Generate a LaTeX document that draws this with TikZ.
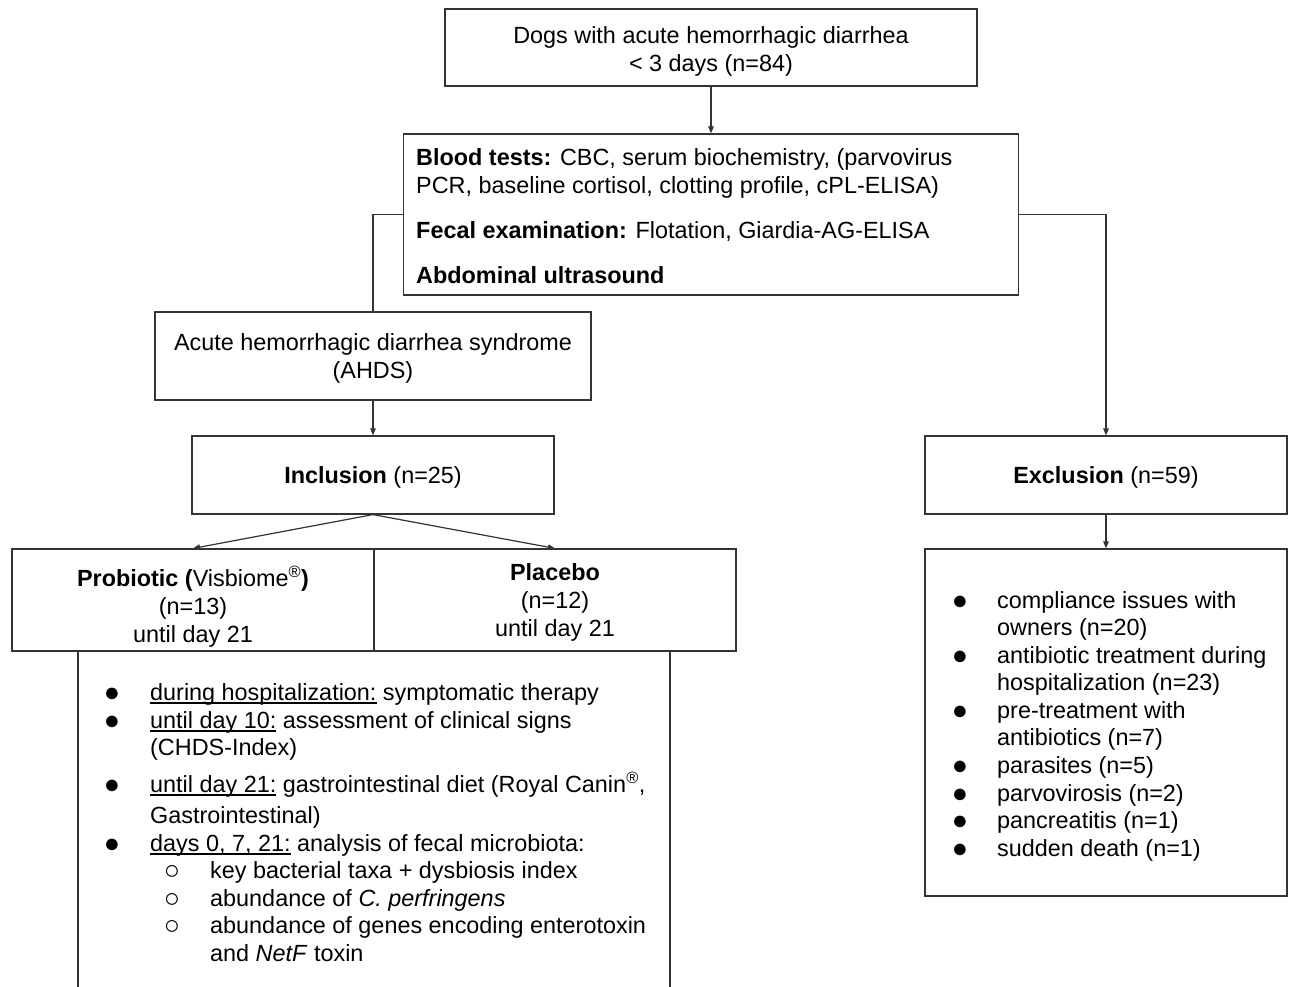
\documentclass[tikz,border=0pt]{standalone}
\usepackage{fontspec}
\setmainfont{Liberation Sans}
\usetikzlibrary{arrows.meta}

% underline that sits just under the baseline
\newcommand{\undl}[1]{\setbox0\hbox{#1}\rlap{\rule[-3pt]{\wd0}{1.1pt}}\box0{}}

\tikzset{
  box/.style={draw=black!80, line width=1.2pt, inner sep=0pt, align=center, text depth=0pt},
  link/.style={draw=black!80, line width=1.2pt, -{Triangle[length=7pt,width=5.5pt]}},
  item/.style={anchor=west, inner sep=0pt, text height=17.5pt, text depth=5.5pt, yshift=-2.5pt},
  dot/.style={anchor=center, inner sep=0pt, yshift=-2.5pt, scale=1.15},
}

\begin{document}
\begin{tikzpicture}[x=1pt, y=-1pt, font=\fontsize{23.4}{28}\selectfont]
      \useasboundingbox (0,0) rectangle (1291,987);

      % The dogs that came in.
      \node[box, minimum width=532pt, minimum height=77pt] (dogs) at (711,47.5)
      {\rule{0pt}{21pt}Dogs with acute hemorrhagic diarrhea\\< 3 days (n=84)};

      % The examinations.
      \node[box, minimum width=615pt, minimum height=161pt] (tests) at (711,214.5) {};
      \node[item] (blood1) at (416,157) {\textbf{Blood tests:} CBC, serum biochemistry, (parvovirus};
      \node[item] (blood2) at (416,185) {PCR, baseline cortisol, clotting profile, cPL-ELISA)};
      \node[item] (fecal) at (416,230) {\textbf{Fecal examination:} Flotation, Giardia-AG-ELISA};
      \node[item] (sono) at (416,275) {\textbf{Abdominal ultrasound}};

      % The diagnosis.
      \node[box, minimum width=436pt, minimum height=88pt] (ahds) at (373,356)
      {Acute hemorrhagic diarrhea syndrome\\(AHDS)};

      % Inclusion and exclusion.
      \node[box, minimum width=362pt, minimum height=78pt] (incl) at (373,475)
      {\textbf{Inclusion} (n=25)};
      \node[box, minimum width=362pt, minimum height=78pt] (excl) at (1106,475)
      {\textbf{Exclusion} (n=59)};

      % The two treatment groups.
      \node[box, minimum width=362pt, minimum height=102pt] (probio) at (193,600)
      {\rule{0pt}{29pt}\textbf{Probiotic (}Visbiome\textsuperscript{®}\textbf{)}\\(n=13)\\until day 21};
      \node[box, minimum width=362pt, minimum height=102pt] (placebo) at (555,600)
      {\textbf{Placebo}\\(n=12)\\until day 21};

      % The study protocol, open at the bottom.
      \node[box, minimum width=592pt, minimum height=345pt, anchor=north] (treat) at (374,651) {};
      \node[dot] (b1) at (112,692) {●};
      \node[item] (t1) at (150,692) {\undl{during hospitalization:} symptomatic therapy};
      \node[dot] (b2) at (112,720) {●};
      \node[item] (t2) at (150,720) {\undl{until day 10:} assessment of clinical signs};
      \node[item] (t3) at (150,747) {(CHDS-Index)};
      \node[dot] (b3) at (112,784) {●};
      \node[item] (t4) at (150,784) {\undl{until day 21:} gastrointestinal diet (Royal Canin\textsuperscript{®},};
      \node[item] (t5) at (150,815) {Gastrointestinal)};
      \node[dot] (b4) at (112,843) {●};
      \node[item] (t6) at (150,843) {\undl{days 0, 7, 21:} analysis of fecal microbiota:};
      \node[dot] (c1) at (172,870) {○};
      \node[item] (t7) at (210,870) {key bacterial taxa + dysbiosis index};
      \node[dot] (c2) at (172,898) {○};
      \node[item] (t8) at (210,898) {abundance of \textit{C. perfringens}};
      \node[dot] (c3) at (172,925) {○};
      \node[item] (t9) at (210,925) {abundance of genes encoding enterotoxin};
      \node[item] (t10) at (210,953) {and \textit{NetF} toxin};

      % The reasons for exclusion.
      \node[box, minimum width=362pt, minimum height=347pt] (reasons) at (1106,722.5) {};
      \node[dot] (e1) at (960,600) {●};
      \node[item] (r1) at (997,600) {compliance issues with};
      \node[item] (r2) at (997,627) {owners (n=20)};
      \node[dot] (e2) at (960,655) {●};
      \node[item] (r3) at (997,655) {antibiotic treatment during};
      \node[item] (r4) at (997,682) {hospitalization (n=23)};
      \node[dot] (e3) at (960,710) {●};
      \node[item] (r5) at (997,710) {pre-treatment with};
      \node[item] (r6) at (997,737) {antibiotics (n=7)};
      \node[dot] (e4) at (960,765) {●};
      \node[item] (r7) at (997,765) {parasites (n=5)};
      \node[dot] (e5) at (960,793) {●};
      \node[item] (r8) at (997,793) {parvovirosis (n=2)};
      \node[dot] (e6) at (960,820) {●};
      \node[item] (r9) at (997,820) {pancreatitis (n=1)};
      \node[dot] (e7) at (960,848) {●};
      \node[item] (r10) at (997,848) {sudden death (n=1)};

      % Connectors.
      \draw[link] (dogs) -- (tests);
      \draw[draw=black!80, line width=1.2pt] (tests.west) -| (ahds.north);
      \draw[link] (tests.east) -| (excl.north);
      \draw[link] (ahds) -- (incl);
      \draw[link] (incl.south) -- (probio.north);
      \draw[link] (incl.south) -- (placebo.north);
      \draw[link] (excl) -- (reasons);
\end{tikzpicture}
\end{document}
